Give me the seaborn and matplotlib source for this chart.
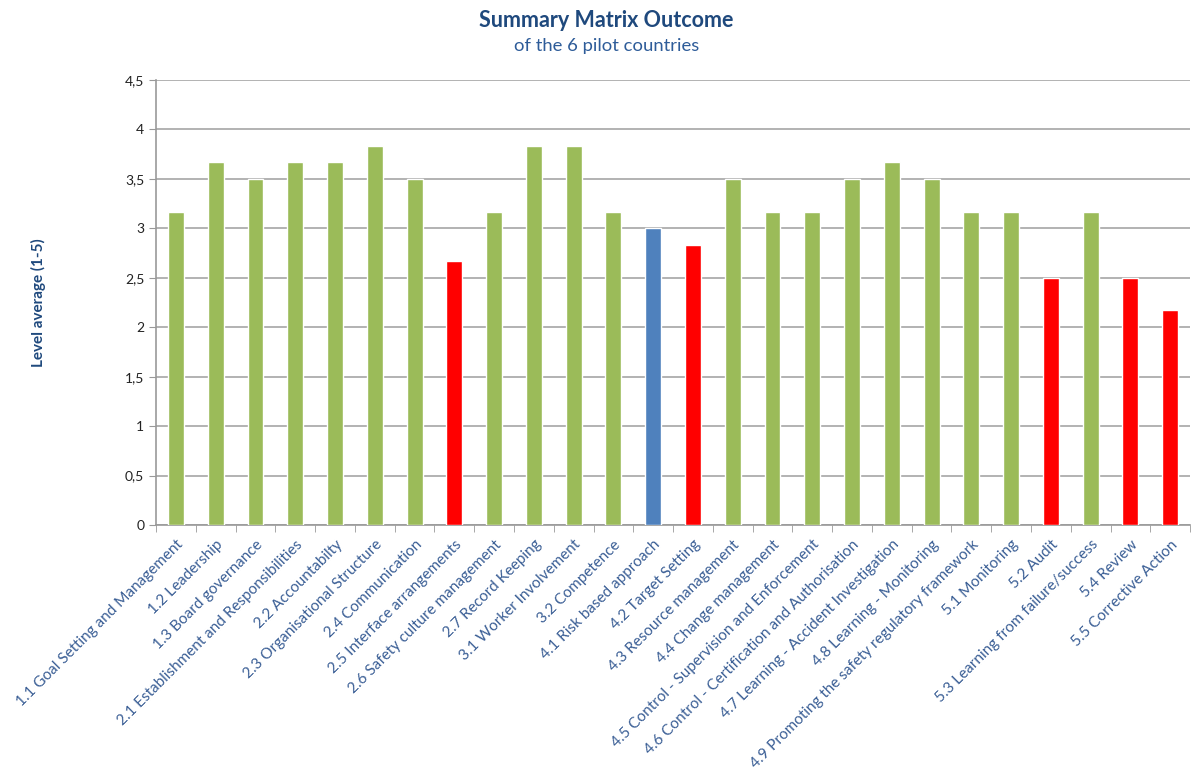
import numpy as np
import pandas as pd
import matplotlib
matplotlib.use("Agg")
import matplotlib.pyplot as plt
import seaborn as sns

categories = [
    "1.1 Goal Setting and Management", "1.2 Leadership", "1.3 Board governance",
    "2.1 Establishment and Responsibilities", "2.2 Accountabilty",
    "2.3 Organisational Structure", "2.4 Communication", "2.5 Interface arrangements",
    "2.6 Safety culture management", "2.7 Record Keeping", "3.1 Worker Involvement",
    "3.2 Competence", "4.1 Risk based approach", "4.2 Target Setting",
    "4.3 Resource management", "4.4 Change management",
    "4.5 Control - Supervision and Enforcement",
    "4.6 Control - Certification and Authorisation",
    "4.7 Learning - Accident Investigation", "4.8 Learning - Monitoring",
    "4.9 Promoting the safety regulatory framework", "5.1 Monitoring", "5.2 Audit",
    "5.3 Learning from failure/success", "5.4 Review", "5.5 Corrective Action",
]
values = [3.17, 3.67, 3.5, 3.67, 3.67, 3.83, 3.5, 2.67, 3.17, 3.83, 3.83, 3.17, 3.0,
          2.83, 3.5, 3.17, 3.17, 3.5, 3.67, 3.5, 3.17, 3.17, 2.5, 3.17, 2.5, 2.17]
status = ["ok"] * 7 + ["low"] + ["ok"] * 4 + ["mid", "low"] + ["ok"] * 8 + ["low", "ok", "low", "low"]

palette = {"ok": "#9BBB59", "low": "#FF0000", "mid": "#4F81BD"}
df = pd.DataFrame({"cat": categories, "val": values, "status": status})

sns.set_style("white")
plt.rcParams["font.family"] = ["Lato", "DejaVu Sans"]

fig = plt.figure(figsize=(11.94, 7.73), dpi=100)
ax = fig.add_axes([0.1307, 0.3208, 0.866, 0.5757])

sns.barplot(data=df, x="cat", y="val", hue="status", palette=palette, dodge=False,
            width=0.4, saturation=1, legend=False, ax=ax, zorder=3)

ax.set_ylim(0, 4.5)
ax.set_xlim(-0.5, len(categories) - 0.5)
yt = np.arange(0, 4.51, 0.5)
ax.set_yticks(yt)
ax.set_yticklabels([("%g" % t).replace(".", ",") for t in yt], fontsize=10, color="#222222")
ax.yaxis.grid(True, color="#A6A6A6", linewidth=1.2, zorder=0)
ax.set_axisbelow(True)
ax.tick_params(axis="y", length=5, color="#999999", direction="out", left=True)

ax.set_xticks(range(len(categories)))
ax.set_xticklabels(categories, rotation=45, ha="right", va="top", rotation_mode="anchor",
                   fontsize=11, color="#3A5E95")
ax.set_xticks(np.arange(len(categories) + 1) - 0.5, minor=True)
ax.tick_params(axis="x", which="major", length=0, pad=9)
ax.tick_params(axis="x", which="minor", length=5, color="#999999", bottom=True)
ax.set_xlabel("")
ax.set_ylabel("Level average (1-5)", fontsize=11, fontweight="bold", color="#1F497D",
              labelpad=57)

for s in ["top", "right"]:
    ax.spines[s].set_visible(False)
for s in ["left", "bottom"]:
    ax.spines[s].set_color("#999999")
    ax.spines[s].set_linewidth(1.2)

fig.text(0.508, 0.974, "Summary Matrix Outcome", ha="center", va="center",
         fontsize=15.5, fontweight="bold", color="#1F497D")
fig.text(0.508, 0.941, "of the 6 pilot countries", ha="center", va="center",
         fontsize=13.3, color="#2E5C99")

fig.savefig("out.png", dpi=100)
